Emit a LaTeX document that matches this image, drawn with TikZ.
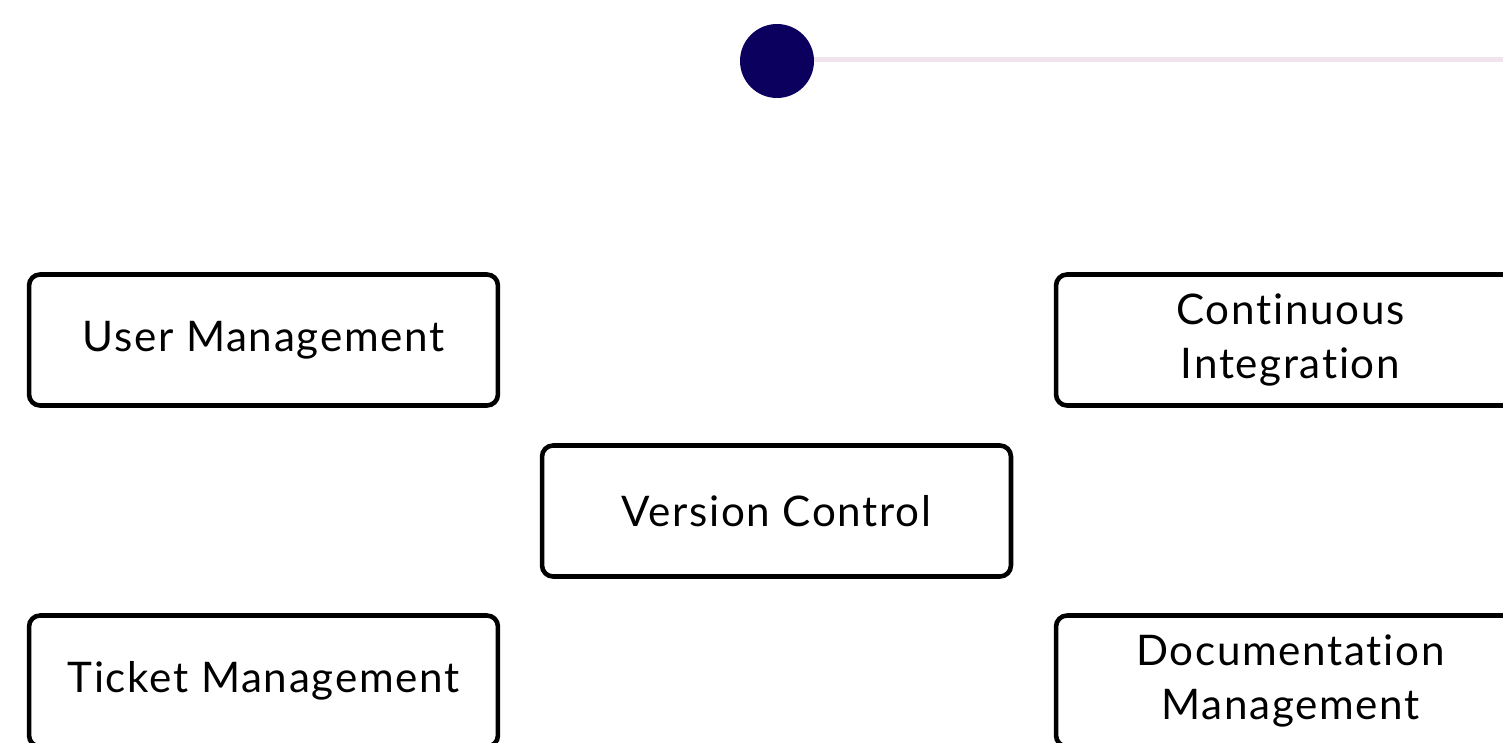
\documentclass[tikz,border=0pt]{standalone}
\usepackage{fontspec}
\setmainfont[LetterSpace=4,Ligatures={NoCommon}]{Lato}
\usepackage{tikz}
\definecolor{dotnavy}{HTML}{0B005E}
\definecolor{railpink}{HTML}{F1E4EF}
\tikzstyle{module}=[rectangle,rounded corners=0.22cm,line width=2.6pt,draw=black,
  minimum width=9.38cm,minimum height=2.62cm,align=center,
  font=\fontsize{24}{31}\selectfont]
\tikzstyle{dot}=[circle,fill=dotnavy,minimum size=1.48cm,inner sep=0pt]

\begin{document}
\begin{tikzpicture}[x=0.02cm,y=-0.02cm]
     \useasboundingbox (0,0) rectangle (1503,743);
     \clip (0,0) rectangle (1503,743);
     % timeline marker
     \coordinate (railend) at (1530,60);
     \draw[railpink,line width=0.1cm] (777,60) -- (railend);
     \node (start) [dot] at (777,61) {};
     % tool boxes
     \node (user) [module] at (263.5,340) {User Management};
     \node (ci) [module] at (1290.5,340) {Continuous\\Integration};
     \node (vcs) [module] at (776.5,511) {Version Control};
     \node (ticket) [module] at (263.5,681) {Ticket Management};
     \node (docs) [module] at (1290.5,681) {Documentation\\Management};
  \end{tikzpicture}
\end{document}
